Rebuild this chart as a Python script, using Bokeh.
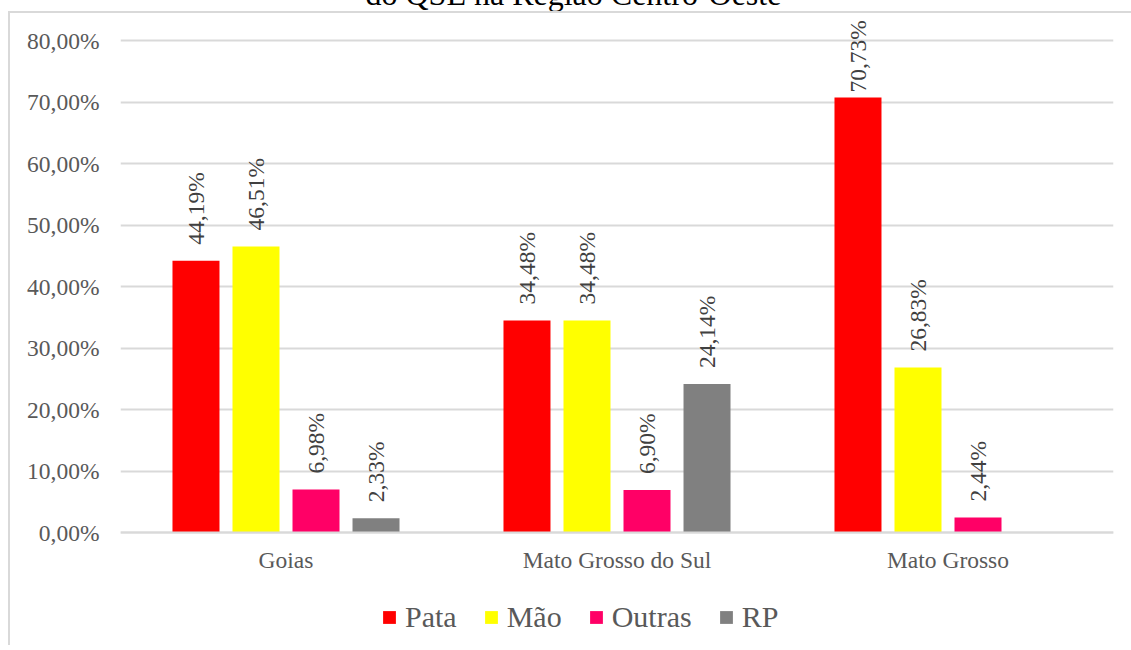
import math
from bokeh.plotting import figure
from bokeh.models import (ColumnDataSource, FactorRange, Range1d, FixedTicker,
                          Legend, LegendItem, InlineStyleSheet)
from bokeh.transform import dodge
from bokeh.core.properties import value
from bokeh.embed import file_html
from bokeh.resources import INLINE

# ---------------- data ----------------
states = ["Goias", "Mato Grosso do Sul", "Mato Grosso"]
series = ["Pata", "Mão", "Outras", "RP"]
pata = [44.19, 34.48, 70.73]
mao = [46.51, 34.48, 26.83]
outras = [6.98, 6.90, 2.44]
rp = [2.33, 24.14, float("nan")]
colors = ["#FF0000", "#FFFF00", "#FF0066", "#808080"]
y_ticks = [0, 10, 20, 30, 40, 50, 60, 70, 80]
title_text = "do QSE na Região Centro-Oeste"

FONT = "Liberation Serif"
GREY = "#595959"
GRID = "#d9d9d9"

def pct(v):
    return ("%.2f%%" % v).replace(".", ",")

# ---------------- layout constants ----------------
FRAME_W = 993
PPU = 6.15              # pixels per percentage point
Y_END = 84.23
Y_START = -18.37        # room below the zero line for category labels and legend
FRAME_H = int(round((Y_END - Y_START) * PPU))
ppu = FRAME_H / (Y_END - Y_START)

p = figure(x_range=FactorRange(*states), y_range=Range1d(Y_START, Y_END),
           frame_width=FRAME_W, frame_height=FRAME_H,
           output_backend="svg", toolbar_location=None,
           min_border_left=112, min_border_right=18,
           min_border_top=0, min_border_bottom=0,
           margin=(-30, 0, 0, 8), title=title_text)

p.title.text_font = FONT
p.title.text_font_size = "32px"
p.title.text_font_style = "normal"
p.title.text_color = "#000000"
p.title.align = "left"
p.title.offset = 245
p.title.standoff = 6

src = ColumnDataSource(dict(state=states, Pata=pata, Mão=mao, Outras=outras, RP=rp))

pitch = 0.1813
bw = 0.142
renderers = []
for i, s in enumerate(series):
    off = (i - 1.5) * pitch
    r = p.vbar(x=dodge("state", off, range=p.x_range), top=s, bottom=0, width=bw,
               source=src, fill_color=colors[i], line_color=None)
    renderers.append(r)

# data labels
gap, label_len, top_limit = 16, 72, 6
for i, s in enumerate(series):
    off = (i - 1.5) * pitch
    vals = src.data[s]
    xs, ys, txt, yoff = [], [], [], []
    for st, v in zip(states, vals):
        if v is None or (isinstance(v, float) and math.isnan(v)):
            continue
        bar_top = (Y_END - v) * ppu
        o = -gap
        if bar_top - gap - label_len < top_limit:
            o = -(bar_top - top_limit - label_len)
        xs.append(st); ys.append(v); txt.append(pct(v)); yoff.append(o)
    lsrc = ColumnDataSource(dict(state=xs, y=ys, t=txt, yo=yoff))
    p.text(x=dodge("state", off, range=p.x_range), y="y", text="t", y_offset="yo",
           source=lsrc, angle=math.pi / 2, text_align="left", text_baseline="middle",
           text_font=value(FONT), text_font_size="23.5px", text_color="#404040")

# axes
p.xaxis.fixed_location = 0
p.xaxis.axis_line_color = GRID
p.xaxis.axis_line_width = 2
p.xaxis.major_tick_line_color = None
p.xaxis.minor_tick_line_color = None
p.xaxis.major_label_text_font = FONT
p.xaxis.major_label_text_font_size = "23.5px"
p.xaxis.major_label_text_color = GREY
p.xaxis.major_label_standoff = 8

p.yaxis.ticker = FixedTicker(ticks=y_ticks)
p.yaxis.major_label_overrides = {t: pct(t) for t in y_ticks}
p.yaxis.axis_line_color = None
p.yaxis.major_tick_line_color = None
p.yaxis.minor_tick_line_color = None
p.yaxis.major_label_text_font = FONT
p.yaxis.major_label_text_font_size = "23.5px"
p.yaxis.major_label_text_color = GREY
p.yaxis.major_label_standoff = 15

p.xgrid.grid_line_color = None
p.ygrid.grid_line_color = GRID
p.ygrid.grid_line_width = 2
p.outline_line_color = None
p.background_fill_color = "white"
p.border_fill_color = "white"

legend = Legend(items=[LegendItem(label=s, renderers=[renderers[i]]) for i, s in enumerate(series)],
                orientation="horizontal", location=(261, 11))
legend.margin = 0
legend.padding = 0
legend.spacing = 26
legend.glyph_width = 16
legend.glyph_height = 16
legend.label_standoff = 8
legend.label_text_font = FONT
legend.label_text_font_size = "30px"
legend.label_text_color = GREY
legend.border_line_color = None
legend.background_fill_alpha = 0
p.add_layout(legend, "center")

p.stylesheets = [InlineStyleSheet(css=":host{position:relative;} :host::after{content:'';position:absolute;left:0;top:41px;right:0;bottom:0;border-top:2px solid #d9d9d9;border-left:2px solid #d9d9d9;pointer-events:none;}")]

open("out.html", "w").write(file_html(p, INLINE))
